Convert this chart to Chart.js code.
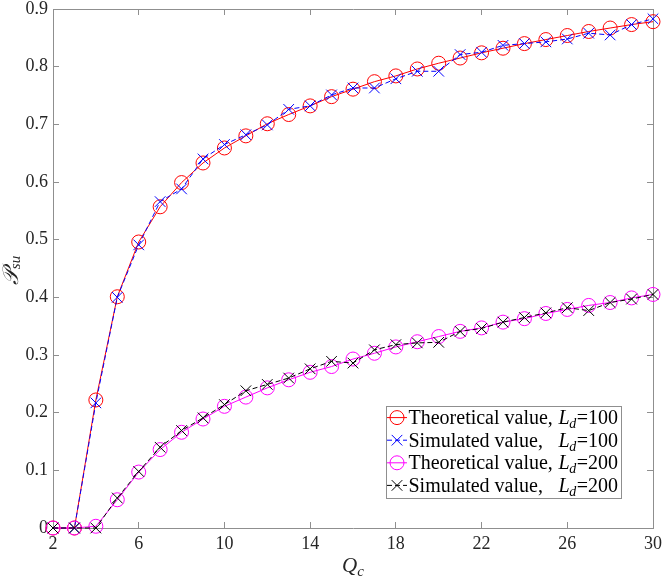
<!DOCTYPE html>
<html>
<head>
<meta charset="utf-8">
<script src="https://cdn.jsdelivr.net/npm/chart.js@4.4.0/dist/chart.umd.min.js"></script>
<style>
html, body { margin: 0; padding: 0; background: #fff; }
#wrap { width: 664px; height: 578px; }
</style>
</head>
<body>
<div id="wrap"><canvas id="psuChart"></canvas></div>
<script>
// values, one entry per Q_c
var qc = [2, 3, 4, 5, 6, 7, 8, 9, 10, 11, 12, 13, 14, 15, 16, 17, 18, 19, 20, 21, 22, 23, 24, 25, 26, 27, 28, 29, 30];
var theory100 = [0, 0, 0.222, 0.401, 0.496, 0.557, 0.599, 0.633, 0.659, 0.680, 0.701, 0.717, 0.732, 0.748, 0.761, 0.774, 0.784, 0.796, 0.806, 0.815, 0.824, 0.832, 0.840, 0.847, 0.854, 0.861, 0.867, 0.873, 0.878];
var sim100 = [0, 0, 0.217, 0.400, 0.491, 0.566, 0.588, 0.640, 0.665, 0.682, 0.699, 0.726, 0.732, 0.751, 0.763, 0.763, 0.779, 0.792, 0.792, 0.821, 0.825, 0.837, 0.840, 0.843, 0.848, 0.858, 0.855, 0.873, 0.883];
var theory200 = [0, 0, 0.003, 0.049, 0.097, 0.136, 0.166, 0.189, 0.211, 0.227, 0.243, 0.257, 0.270, 0.280, 0.293, 0.303, 0.314, 0.323, 0.332, 0.341, 0.347, 0.357, 0.363, 0.372, 0.379, 0.386, 0.391, 0.399, 0.405];
var sim200 = [0, 0, 0, 0.052, 0.098, 0.140, 0.169, 0.191, 0.214, 0.238, 0.249, 0.260, 0.276, 0.289, 0.286, 0.309, 0.318, 0.321, 0.322, 0.341, 0.346, 0.357, 0.365, 0.373, 0.382, 0.377, 0.391, 0.397, 0.405];

var xTicks = [2, 6, 10, 14, 18, 22, 26, 30];
var yTicks = [0, 0.1, 0.2, 0.3, 0.4, 0.5, 0.6, 0.7, 0.8, 0.9];

var legendNames = ["Theoretical value,", "Simulated value,", "Theoretical value,", "Simulated value,"];
var legendLd = ["100", "100", "200", "200"];

var serif = '"Liberation Serif", "Times New Roman", "DejaVu Serif", serif';
var axisGrey = '#8f8f8f';

function points(ys) {
    return qc.map(function (q, i) { return { x: q, y: ys[i] }; });
}
function setTicks(list) {
    return function (scale) {
        scale.ticks = list.map(function (v) { return { value: v }; });
    };
}
function fixHeight(h) {
    return function (scale) { scale.height = h; scale.paddingLeft = 0; scale.paddingRight = 0; };
}
function fixWidth(w) {
    return function (scale) { scale.width = w; scale.paddingTop = 0; scale.paddingBottom = 0; };
}

// axis titles and the boxed legend
var annotate = {
    id: 'annotate',
    afterDraw: function (chart) {
        var ctx = chart.ctx, area = chart.chartArea;
        ctx.save();
        ctx.fillStyle = '#262626';
        ctx.textBaseline = 'alphabetic';
        ctx.textAlign = 'left';

        // x title: Q_c
        ctx.font = 'italic 21px ' + serif;
        var qW = ctx.measureText('Q').width;
        ctx.font = 'italic 15px ' + serif;
        var cW = ctx.measureText('c').width;
        var x0 = (area.left + area.right) / 2 - (qW + cW) / 2;
        ctx.font = 'italic 21px ' + serif;
        ctx.fillText('Q', x0, 572);
        ctx.font = 'italic 15px ' + serif;
        ctx.fillText('c', x0 + qW, 576);

        // y title: P_su
        ctx.save();
        ctx.translate(18, (area.top + area.bottom) / 2);
        ctx.rotate(-Math.PI / 2);
        ctx.font = 'italic 22px ' + serif;
        var pW = ctx.measureText('\u{1D4AB}').width;
        ctx.font = 'italic 15px ' + serif;
        var sW = ctx.measureText('su').width;
        var start = -(pW + sW) / 2 - 2;
        ctx.font = 'italic 22px ' + serif;
        ctx.fillText('\u{1D4AB}', start, 0);
        ctx.font = 'italic 15px ' + serif;
        ctx.fillText('su', start + pW, 2);
        ctx.restore();

        // legend
        var bw = 235, rowH = 22.6;
        var bh = rowH * 4 + 1.6;
        var bx = area.right - 32 - bw;
        var by = area.bottom - 30 - bh;
        ctx.fillStyle = '#ffffff';
        ctx.fillRect(bx, by, bw, bh);
        ctx.strokeStyle = axisGrey;
        ctx.lineWidth = 1;
        ctx.strokeRect(Math.round(bx) + 0.5, Math.round(by) + 0.5, Math.round(bw), Math.round(bh));

        chart.data.datasets.forEach(function (ds, i) {
            var cy = by + 11.6 + i * rowH;
            var mx = bx + 11;
            ctx.strokeStyle = ds.borderColor;
            ctx.lineWidth = 1;
            ctx.setLineDash(ds.borderDash || []);
            ctx.beginPath();
            ctx.moveTo(bx + 1, cy);
            ctx.lineTo(bx + 21, cy);
            ctx.stroke();
            ctx.setLineDash([]);
            ctx.beginPath();
            if (ds.pointStyle === 'circle') {
                ctx.arc(mx, cy, ds.pointRadius, 0, Math.PI * 2);
            } else {
                var d = ds.pointRadius * Math.SQRT1_2;
                ctx.moveTo(mx - d, cy - d); ctx.lineTo(mx + d, cy + d);
                ctx.moveTo(mx - d, cy + d); ctx.lineTo(mx + d, cy - d);
            }
            ctx.stroke();

            ctx.fillStyle = '#000000';
            var base = cy + 6.5;
            ctx.font = '20px ' + serif;
            ctx.textAlign = 'left';
            ctx.fillText(legendNames[i], bx + 22.5, base);
            var tail = '=' + legendLd[i];
            var tailW = ctx.measureText(tail).width;
            var right = bx + bw - 3;
            ctx.fillText(tail, right - tailW, base);
            ctx.font = 'italic 14px ' + serif;
            var dW = ctx.measureText('d').width;
            ctx.fillText('d', right - tailW - dW - 0.5, base + 4);
            ctx.font = 'italic 20px ' + serif;
            var lW = ctx.measureText('L').width;
            ctx.fillText('L', right - tailW - dW - lW, base);
        });
        ctx.restore();
    }
};

var psuCtx = document.getElementById('psuChart').getContext('2d');
var psuChart = new Chart(psuCtx, {
    type: 'line',
    data: {
        datasets: [{
            label: 'Theoretical value, Ld=100',
            data: points(theory100),
            borderColor: '#ff0000',
            borderWidth: 1,
            pointStyle: 'circle',
            pointRadius: 7,
            pointBorderColor: '#ff0000',
            pointBackgroundColor: 'rgba(0,0,0,0)',
            pointBorderWidth: 1,
            clip: false,
            order: 4
        }, {
            label: 'Simulated value, Ld=100',
            data: points(sim100),
            borderColor: '#0000ff',
            borderWidth: 1,
            borderDash: [5, 3],
            pointStyle: 'crossRot',
            pointRadius: 7.5,
            pointBorderColor: '#0000ff',
            pointBorderWidth: 1,
            clip: false,
            order: 3
        }, {
            label: 'Theoretical value, Ld=200',
            data: points(theory200),
            borderColor: '#ff00ff',
            borderWidth: 1,
            pointStyle: 'circle',
            pointRadius: 7,
            pointBorderColor: '#ff00ff',
            pointBackgroundColor: 'rgba(0,0,0,0)',
            pointBorderWidth: 1,
            clip: false,
            order: 2
        }, {
            label: 'Simulated value, Ld=200',
            data: points(sim200),
            borderColor: '#000000',
            borderWidth: 1,
            borderDash: [5, 3],
            pointStyle: 'crossRot',
            pointRadius: 7.5,
            pointBorderColor: '#000000',
            pointBorderWidth: 1,
            clip: false,
            order: 1
        }]
    },
    options: {
        responsive: true,
        maintainAspectRatio: false,
        animation: false,
        layout: { padding: { left: 0, right: 11, top: 9, bottom: 0 } },
        plugins: { legend: { display: false }, tooltip: { enabled: false } },
        elements: { line: { tension: 0 } },
        scales: {
            x: {
                type: 'linear', position: 'bottom', min: 2, max: 30,
                afterBuildTicks: setTicks(xTicks),
                afterFit: fixHeight(50),
                grid: { drawOnChartArea: false, tickLength: -6, color: axisGrey },
                border: { color: axisGrey },
                ticks: { color: '#262626', padding: 11, maxRotation: 0, font: { family: serif, size: 18 } }
            },
            y: {
                type: 'linear', position: 'left', min: 0, max: 0.9,
                afterBuildTicks: setTicks(yTicks),
                afterFit: fixWidth(53),
                grid: { drawOnChartArea: false, tickLength: -6, color: axisGrey },
                border: { color: axisGrey },
                ticks: { color: '#262626', padding: 11, font: { family: serif, size: 18 } }
            },
            x2: {
                type: 'linear', position: 'top', min: 2, max: 30,
                afterBuildTicks: setTicks(xTicks),
                afterFit: fixHeight(0),
                grid: { drawOnChartArea: false, tickLength: -6, color: axisGrey },
                border: { color: axisGrey },
                ticks: { display: false }
            },
            y2: {
                type: 'linear', position: 'right', min: 0, max: 0.9,
                afterBuildTicks: setTicks(yTicks),
                afterFit: fixWidth(0),
                grid: { drawOnChartArea: false, tickLength: -6, color: axisGrey },
                border: { color: axisGrey },
                ticks: { display: false }
            }
        }
    },
    plugins: [annotate]
});
</script>
</body>
</html>
